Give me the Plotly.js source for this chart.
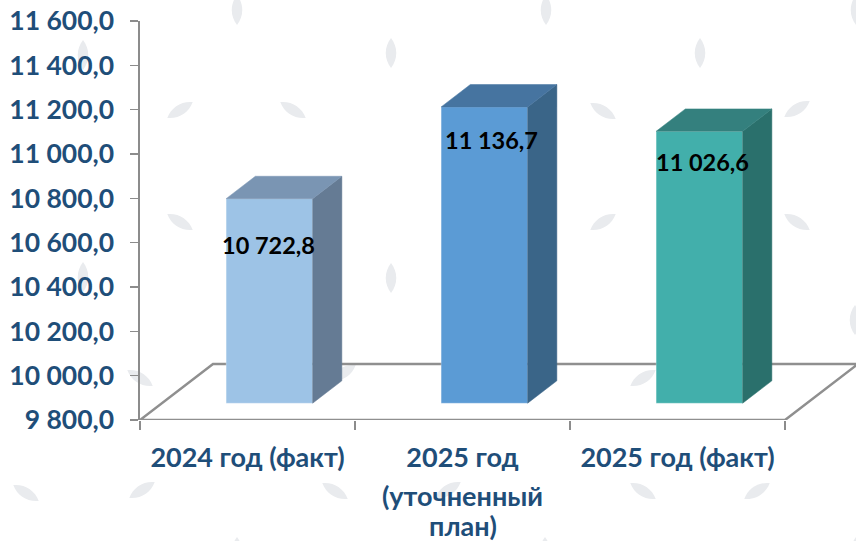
<!DOCTYPE html>
<html><head><meta charset="utf-8">
<script src="https://cdn.plot.ly/plotly-3.0.1.min.js"></script>
<style>html,body{margin:0;padding:0;background:#fff}#chart{width:856px;height:541px}</style>
</head><body><div id="chart"></div>
<script>
const categories = ['2024 год (факт)', '2025 год', '2025 год (факт)'];
const values = [10722.8, 11136.7, 11026.6];
const secondLines = ['(уточненный', 'план)'];
const yTicks = [9800, 10000, 10200, 10400, 10600, 10800, 11000, 11200, 11400, 11600];
const frontColors = ['#9DC3E6', '#5B9BD5', '#42AFAB'];
const sideColors = ['#657B94', '#3A6588', '#2A706C'];
const topColors = ['#7A95B3', '#4674A0', '#34807E'];

// Decorative background leaves
const leavesV = [[237,10],[83,55],[391,53],[546,10],[700,53],[856,10],[83,277],[391,278],[855,320],[237,552],[545,552],[856,552]];
const leavesR = [[180,110],[797,109],[603,222],[142,490],[448,490],[757,491],[643,378],[343,373]];
const leavesF = [[293,110],[603,111],[180,222],[797,222],[140,378],[26,493],[335,491],[643,491]];
function leaf(p, a) { return `<path transform="translate(${p[0]} ${p[1]}) rotate(${a})" d="M0 -15 C7 -6 7 6 0 15 C-7 6 -7 -6 0 -15Z" fill="#E9EBEE"/>`; }
const bg = '<svg xmlns="http://www.w3.org/2000/svg" width="856" height="541">' +
  leavesV.map(p => leaf(p, 0)).join('') + leavesR.map(p => leaf(p, 58)).join('') + leavesF.map(p => leaf(p, -58)).join('') + '</svg>';
document.getElementById('chart').style.background = 'url("data:image/svg+xml,' + encodeURIComponent(bg) + '")';

// Oblique projection, expressed in axis units
const yMin = 9800, yMax = 11600, pxX = 215, pxY = 399 / 1800;
const depthX = 73 / pxX, depthY = 56 / pxY;
const zFront = 0.3, zBack = 0.7, barW = 86.5 / pxX;
const xMax = -0.5 + 716 / pxX;
const px = (x, z) => x + z * depthX;
const py = (y, z) => y + z * depthY;

const traces = [];
values.forEach((v, i) => {
  const l = i - barW / 2, r = i + barW / 2;
  traces.push({
    type: 'bar', x: [px(i, zFront)], y: [v - yMin], base: [py(yMin, zFront)], width: [barW],
    marker: { color: frontColors[i], line: { color: 'rgba(255,255,255,0.25)', width: 1 } },
    hoverinfo: 'skip', showlegend: false
  });
  traces.push({
    type: 'scatter', mode: 'lines', fill: 'toself', fillcolor: sideColors[i],
    x: [px(r, zFront), px(r, zBack), px(r, zBack), px(r, zFront), px(r, zFront)],
    y: [py(yMin, zFront), py(yMin, zBack), py(v, zBack), py(v, zFront), py(yMin, zFront)],
    line: { width: 0.5, color: sideColors[i] }, hoverinfo: 'skip', showlegend: false
  });
  traces.push({
    type: 'scatter', mode: 'lines', fill: 'toself', fillcolor: topColors[i],
    x: [px(l, zFront), px(l, zBack), px(r, zBack), px(r, zFront), px(l, zFront)],
    y: [py(v, zFront), py(v, zBack), py(v, zBack), py(v, zFront), py(v, zFront)],
    line: { width: 0.5, color: topColors[i] }, hoverinfo: 'skip', showlegend: false
  });
});

const fmt = v => { const [a, b] = v.toFixed(1).split('.'); return a.slice(0, -3) + ' ' + a.slice(-3) + ',' + b; };
const labelDx = [-0.005, 0.032, 0.016];
const labelDy = [-135, -75, -62];
const labelFont = { family: 'Lato, Carlito, sans-serif', size: 23.5, color: '#000' };
const tickFont = { family: 'Lato, Carlito, sans-serif', size: 26.5, color: '#1F4E79' };
const catFont = { family: 'Lato, Carlito, sans-serif', size: 27, color: '#1F4E79' };

const annotations = values.map((v, i) => ({
  x: px(i, zFront) + labelDx[i], y: v + labelDy[i], xref: 'x', yref: 'y', text: '<b>' + fmt(v) + '</b>',
  showarrow: false, font: labelFont, xanchor: 'center', yanchor: 'middle'
}));
secondLines.forEach((t, k) => annotations.push({
  x: 1, y: 0, xref: 'x', yref: 'paper', yshift: -75 - 30 * k, text: '<b>' + t + '</b>',
  showarrow: false, font: catFont, xanchor: 'center', yanchor: 'middle'
}));

const floorLeft = -0.5, floorRight = 2.5;
const floorPath = `M ${floorRight} ${yMin} L ${floorLeft} ${yMin} L ${px(floorLeft, 1)} ${py(yMin, 1)} L ${xMax} ${py(yMin, 1)} M ${floorRight} ${yMin} L ${px(floorRight, 1)} ${py(yMin, 1)}`;

const layout = {
  width: 856, height: 541,
  margin: { l: 140, r: 0, t: 21, b: 121, pad: 0 },
  paper_bgcolor: 'rgba(0,0,0,0)', plot_bgcolor: 'rgba(0,0,0,0)',
  separators: ', ',
  showlegend: false, barmode: 'overlay',
  xaxis: {
    range: [-0.5, xMax], tickmode: 'array', tickvals: [0, 1, 2],
    ticktext: categories.map(c => '<b>' + c + '</b>'),
    ticks: '', tickangle: 0, tickfont: catFont, showgrid: false, zeroline: false, showline: false,
    ticklabelstandoff: 19,
    minor: { tickmode: 'array', tickvals: [-0.5, 0.5, 1.5, 2.5], ticks: 'outside', ticklen: 9, tickwidth: 1.5, tickcolor: '#8C8C8C', showgrid: false }
  },
  yaxis: {
    range: [yMin, yMax], tickmode: 'array', tickvals: yTicks, tickformat: ',.1f',
    ticks: 'outside', ticklen: 8, tickwidth: 1.5, tickcolor: '#8C8C8C',
    tickfont: Object.assign({}, tickFont, { weight: 'bold' }), showgrid: false, zeroline: false,
    showline: true, linecolor: '#8C8C8C', linewidth: 2.5, ticklabelstandoff: 10
  },
  shapes: [{ type: 'path', xref: 'x', yref: 'y', path: floorPath, layer: 'below', line: { color: '#8F8F8F', width: 2.5 } }],
  annotations
};
Plotly.newPlot('chart', traces, layout, { displayModeBar: false, staticPlot: true });
</script></body></html>
